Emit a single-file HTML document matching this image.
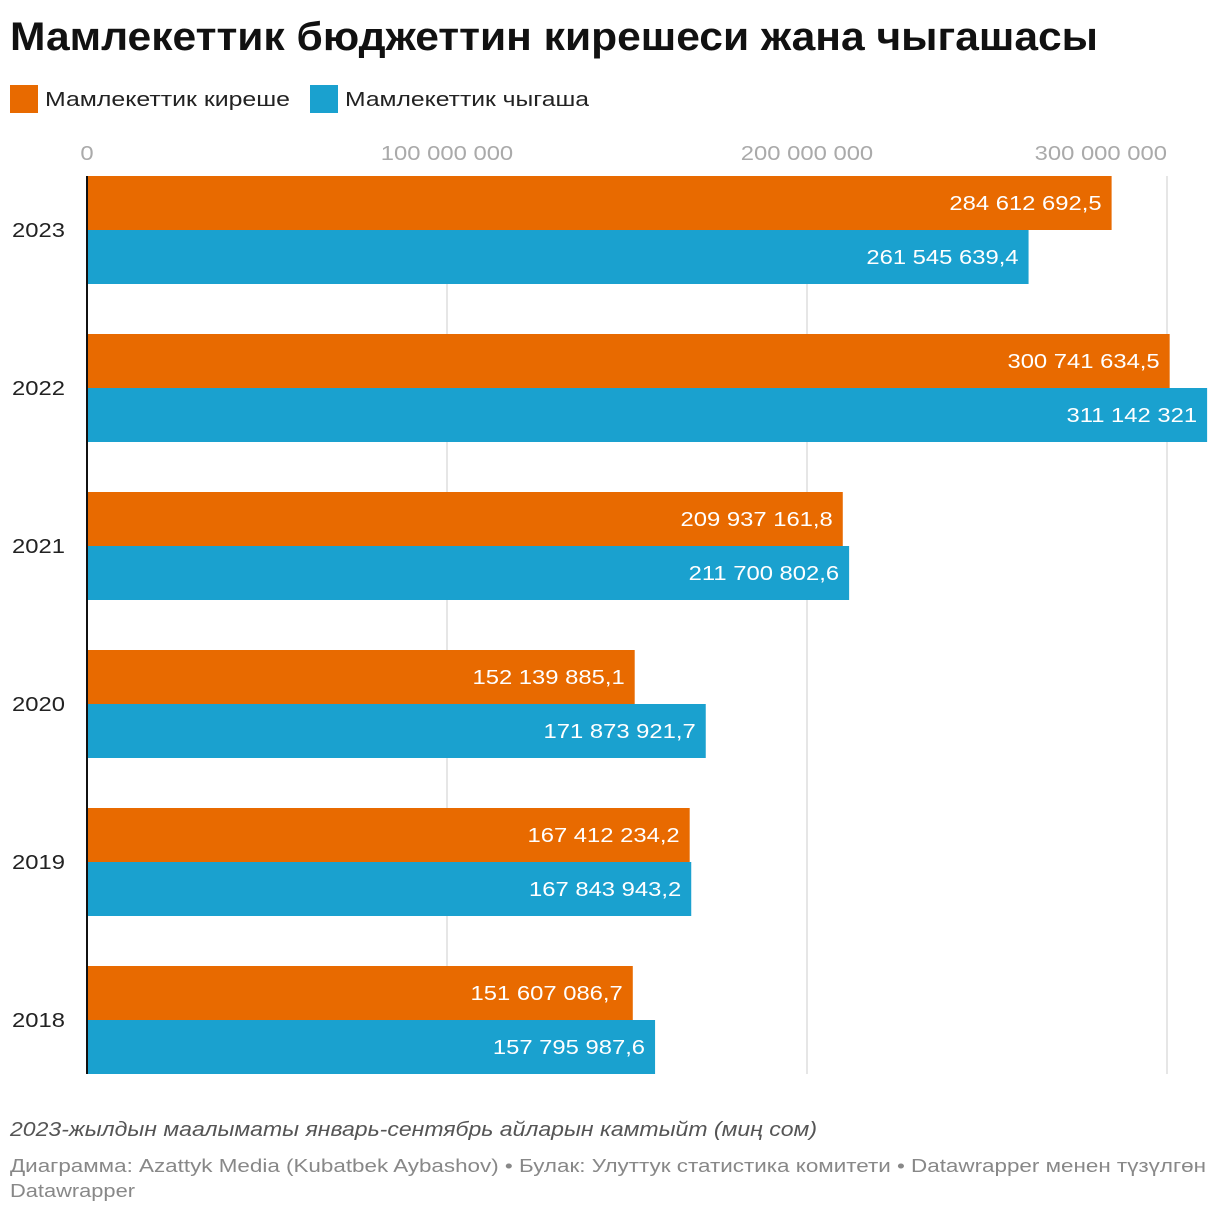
<!DOCTYPE html>
<html><head><meta charset="utf-8">
<style>
body{margin:0;background:#fff;width:1220px;height:1216px;overflow:hidden;font-family:"Liberation Sans",sans-serif;}
</style></head>
<body>
<svg id="c" width="1220" height="1216" xmlns="http://www.w3.org/2000/svg">
<text x="10" y="50" font-size="40" font-weight="bold" fill="#111" textLength="1088" lengthAdjust="spacingAndGlyphs">Мамлекеттик бюджеттин кирешеси жана чыгашасы</text>
<g>
<rect x="10" y="85" width="28" height="28" fill="#e86a00"/>
<text x="45" y="106" font-size="20" fill="#222" textLength="245" lengthAdjust="spacingAndGlyphs">Мамлекеттик киреше</text>
<rect x="310" y="85" width="28" height="28" fill="#1aa1cf"/>
<text x="345" y="106" font-size="20" fill="#222" textLength="244" lengthAdjust="spacingAndGlyphs">Мамлекеттик чыгаша</text>
</g>
<g id="grid"></g>
<g id="bars"></g>
<line x1="87" y1="176" x2="87" y2="1074" stroke="#111" stroke-width="2"/>
<text x="10" y="1136" font-size="20" font-style="italic" fill="#555" textLength="807" lengthAdjust="spacingAndGlyphs">2023-жылдын маалыматы январь-сентябрь айларын камтыйт (миң сом)</text>
<text x="10" y="1172" font-size="18" fill="#888" textLength="1196" lengthAdjust="spacingAndGlyphs">Диаграмма: Azattyk Media (Kubatbek Aybashov) • Булак: Улуттук статистика комитети • Datawrapper менен түзүлгөн</text>
<text x="10" y="1197" font-size="18" fill="#888" textLength="125" lengthAdjust="spacingAndGlyphs">Datawrapper</text>
</svg>
<script>
const years=["2023","2022","2021","2020","2019","2018"];
const income=[284612692.5,300741634.5,209937161.8,152139885.1,167412234.2,151607086.7];
const expense=[261545639.4,311142321,211700802.6,171873921.7,167843943.2,157795987.6];
const ticks=[0,100000000,200000000,300000000];
const ns="http://www.w3.org/2000/svg";
const x0=87,pxPer=360/100000000,top0=176,step=158,bh=54,K=1.19;
const xs=v=>x0+v*pxPer;
function fmt(v){let s=String(v).split('.');let i=s[0].replace(/\B(?=(\d{3})+(?!\d))/g,' ');return s[1]?i+','+s[1]:i;}
function mk(t,a,p){const e=document.createElementNS(ns,t);for(const k in a)e.setAttribute(k,a[k]);p.appendChild(e);return e;}
function widen(t){const w=t.getComputedTextLength();t.setAttribute('textLength',w*K);t.setAttribute('lengthAdjust','spacingAndGlyphs');}
const grid=document.getElementById('grid'),bars=document.getElementById('bars');
ticks.forEach((t,i)=>{
 if(i>0){const l=mk('line',{x1:xs(t),x2:xs(t),y1:176,y2:1074,stroke:'#ddd','stroke-width':1.5},grid);
 
 }
 const last=i===ticks.length-1;
 const tx=mk('text',{x:xs(t),y:160,'font-size':20,fill:'#aaa','text-anchor':last?'end':'middle'},grid);
 tx.textContent=fmt(t);
 
 
 widen(tx);
});
years.forEach((y,i)=>{
 const gy=top0+i*step;
 const yl=mk('text',{x:12,y:gy+bh+7,'font-size':20,fill:'#222'},bars);
 yl.textContent=y;
 
 
 widen(yl);
 [[income[i],'#e86a00',gy,'bar-income'],[expense[i],'#1aa1cf',gy+bh,'bar-expense']].forEach(([v,c,by,n])=>{
  const r=mk('rect',{x:x0,y:by,width:xs(v)-x0,height:bh,fill:c},bars);
  
  
  const t=mk('text',{x:xs(v)-10,y:by+bh/2+7,'font-size':20,fill:'#fff','text-anchor':'end'},bars);
  t.textContent=fmt(v);
  
  
  widen(t);
 });
});
</script>
</body></html>
